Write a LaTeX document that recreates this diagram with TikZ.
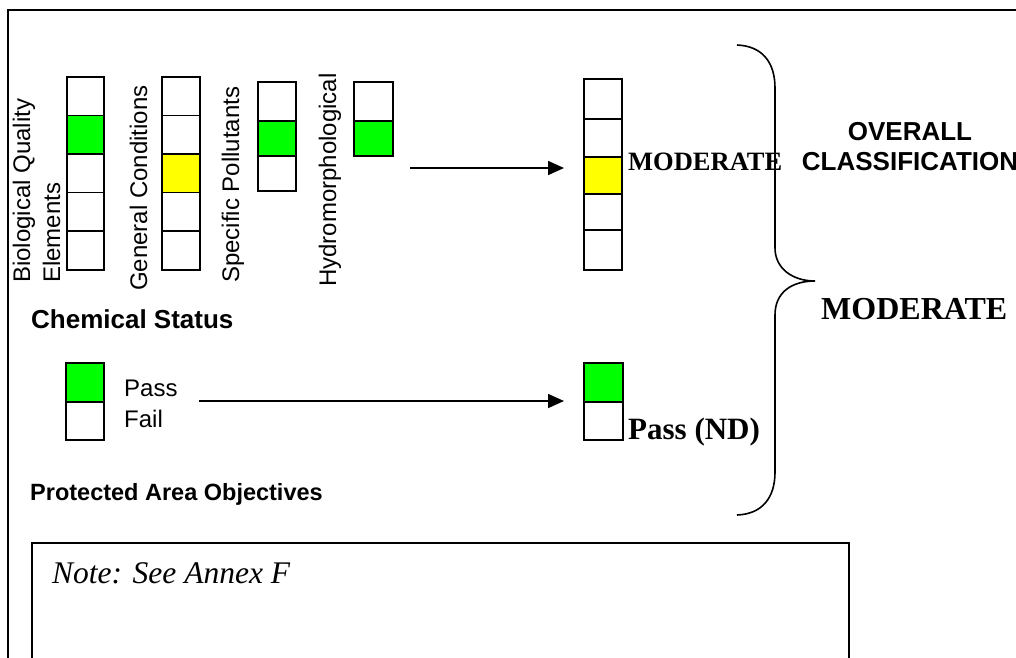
\documentclass[tikz,border=0pt]{standalone}
\usepackage{fontspec}
\setmainfont{Liberation Serif}
\setsansfont{Liberation Sans}
\usetikzlibrary{arrows.meta}
\definecolor{lgreen}{RGB}{0,255,0}
\definecolor{lyellow}{RGB}{255,255,0}
\tikzset{
  cell/.style={draw, line width=1.6pt, inner sep=0pt, anchor=north west},
  sans/.style={font=\sffamily\fontsize{24}{29}\selectfont, inner sep=0pt, anchor=base west},
  sansb/.style={font=\sffamily\bfseries\fontsize{#1}{#1}\selectfont, inner sep=0pt, anchor=base west},
  serb/.style={font=\rmfamily\bfseries\fontsize{#1}{#1}\selectfont, inner sep=0pt, anchor=base west},
  vlbl/.style={sans, rotate=90},
  arr/.style={line width=1.6pt, -{Triangle[length=16pt,width=14pt]}},
  frame/.style={line width=1.6pt},
}
\begin{document}
\begin{tikzpicture}[x=1pt,y=-1pt]
\clip (0,0) rectangle (1016,657);
\fill[white] (0,0) rectangle (1016,657);
% outer frame
\draw[frame] (8,700) -- (8,10) -- (1100,10);
% rotated labels
\node[vlbl] (tbio) at (30,283) {Biological Quality};
\node[vlbl] (tele) at (60,283) {Elements};
\node[vlbl] (tgen) at (147,291) {General Conditions};
\node[vlbl] (tspe) at (239,283) {Specific Pollutants};
\node[vlbl] (thyd) at (336,287) {Hydromorphological};
% column 1
\node[cell, minimum width=37pt, minimum height=38.6pt] (b1) at (66,76) {};
\node[cell, fill=lgreen, minimum width=37pt, minimum height=38.6pt] (b2) at (66,114.6) {};
\node[cell, minimum width=37pt, minimum height=38.6pt] (b3) at (66,153.2) {};
\node[cell, minimum width=37pt, minimum height=38.6pt] (b4) at (66,191.8) {};
\node[cell, minimum width=37pt, minimum height=38.6pt] (b5) at (66,230.4) {};
% column 2
\node[cell, minimum width=38pt, minimum height=38.6pt] (g1) at (161,76) {};
\node[cell, minimum width=38pt, minimum height=38.6pt] (g2) at (161,114.6) {};
\node[cell, fill=lyellow, minimum width=38pt, minimum height=38.6pt] (g3) at (161,153.2) {};
\node[cell, minimum width=38pt, minimum height=38.6pt] (g4) at (161,191.8) {};
\node[cell, minimum width=38pt, minimum height=38.6pt] (g5) at (161,230.4) {};
% column 3
\node[cell, minimum width=38pt, minimum height=39pt] (s1) at (257,81) {};
\node[cell, fill=lgreen, minimum width=38pt, minimum height=35pt] (s2) at (257,120) {};
\node[cell, minimum width=38pt, minimum height=35pt] (s3) at (257,155) {};
% column 4
\node[cell, minimum width=39pt, minimum height=39pt] (h1) at (353,81) {};
\node[cell, fill=lgreen, minimum width=39pt, minimum height=35pt] (h2) at (353,120) {};
% result column
\node[cell, minimum width=38pt, minimum height=40pt] (m1) at (583,78) {};
\node[cell, minimum width=38pt, minimum height=38pt] (m2) at (583,118) {};
\node[cell, fill=lyellow, minimum width=38pt, minimum height=37pt] (m3) at (583,156) {};
\node[cell, minimum width=38pt, minimum height=36pt] (m4) at (583,193) {};
\node[cell, minimum width=38pt, minimum height=40pt] (m5) at (583,229) {};
% arrow 1
\coordinate (a1s) at (410,168);
\coordinate (a1e) at (564,168);
\draw[arr] (a1s) -- (a1e);
\node[serb=26.5] (tmod) at (628,170) {MODERATE};
% overall classification
\node[font=\sffamily\bfseries\fontsize{26}{26}\selectfont, inner sep=0pt, anchor=base] (tov) at (910,140) {OVERALL};
\node[font=\sffamily\bfseries\fontsize{26}{26}\selectfont, inner sep=0pt, anchor=base] (tcl) at (910,170) {CLASSIFICATION};
% brace
\draw[frame] (737,45) .. controls (762,46) and (775,62) .. (775,88) -- (775,248)
  .. controls (775,268) and (792,281) .. (815,281)
  .. controls (792,281) and (775,292) .. (775,315) -- (775,472)
  .. controls (775,498) and (762,514) .. (737,515);
\node[serb=32] (tmodbig) at (821,319) {MODERATE};
% chemical status
\node[sansb=26] (tchem) at (31,328) {Chemical Status};
\node[cell, fill=lgreen, minimum width=38pt, minimum height=39pt] (c1) at (65,362) {};
\node[cell, minimum width=38pt, minimum height=38pt] (c2) at (65,401) {};
\node[sans] (tpass) at (124,396) {Pass};
\node[sans] (tfail) at (124,427) {Fail};
\coordinate (a2s) at (199,401);
\coordinate (a2e) at (564,401);
\draw[arr] (a2s) -- (a2e);
\node[cell, fill=lgreen, minimum width=39pt, minimum height=39pt] (r1) at (583,362) {};
\node[cell, minimum width=39pt, minimum height=38pt] (r2) at (583,401) {};
\node[serb=31] (tpnd) at (628,439) {Pass (ND)};
% protected area
\node[sansb=23.5] (tprot) at (30,500) {Protected Area Objectives};
% note box
\draw[frame] (32,700) -- (32,543) -- (849,543) -- (849,700);
\node[font=\rmfamily\itshape\fontsize{31.5}{31.5}\selectfont, inner sep=0pt, anchor=base west] (tnote) at (52,583) {Note: See Annex F};
\end{tikzpicture}
\end{document}
